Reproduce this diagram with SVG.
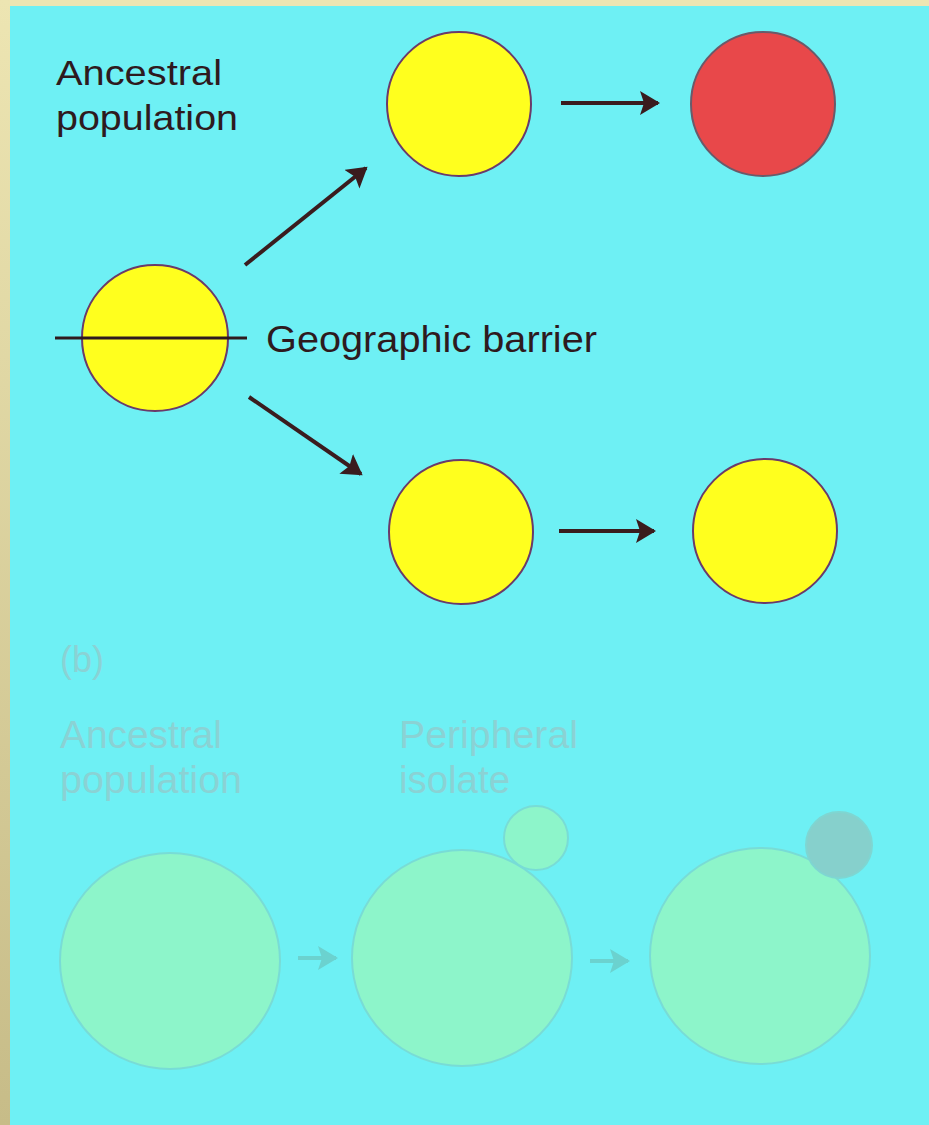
<svg xmlns="http://www.w3.org/2000/svg" width="929" height="1125" viewBox="0 0 929 1125">
<defs>
<linearGradient id="strip" x1="0" y1="0" x2="0" y2="1">
<stop offset="0" stop-color="#ede5b2"/>
<stop offset="1" stop-color="#c7bc88"/>
</linearGradient>
<marker id="ah" markerWidth="6" markerHeight="6" refX="4.5" refY="3" orient="auto" markerUnits="strokeWidth">
<path d="M0,0 L5,3 L0,6 L1,3 Z" fill="#3a1c1e"/>
</marker>
<marker id="ahf" markerWidth="6" markerHeight="6" refX="4.5" refY="3" orient="auto" markerUnits="strokeWidth">
<path d="M0,0 L5,3 L0,6 L1,3 Z" fill="#6bd2cf"/>
</marker>
</defs>
<style>
.t{font-family:"Liberation Sans",Arial,sans-serif;fill:#2e1a1e}
.f{font-family:"Liberation Sans",Arial,sans-serif;fill:#8ad2d4}
.y{fill:#ffff1e;stroke:#6a3a6a;stroke-width:2}
.r{fill:#e8484a;stroke:#6a5a6a;stroke-width:2}
.g{fill:#8df5ca;stroke:#78dcd6;stroke-width:2}
.s{fill:#86d0cc;stroke:#7ed6d2;stroke-width:2}
.c{stroke:#3a1c1e;stroke-width:4;fill:none;marker-end:url(#ah)}
.cf{stroke:#6bd2cf;stroke-width:4;fill:none;marker-end:url(#ahf)}
</style>
<rect x="0" y="0" width="929" height="1125" fill="#6ef0f4"/>
<rect x="0" y="0" width="929" height="6" fill="#ede5b2"/>
<rect x="0" y="0" width="10" height="1125" fill="url(#strip)"/>

<g id="label-ancestral-a">
<text class="t" font-size="35" x="56" y="85" textLength="166" lengthAdjust="spacingAndGlyphs">Ancestral</text>
<text class="t" font-size="35" x="56" y="130" textLength="182" lengthAdjust="spacingAndGlyphs">population</text>
</g>
<g id="node-ancestral"><circle class="y" cx="155" cy="338" r="73"/></g>
<g id="barrier">
<line x1="55" y1="338" x2="247" y2="338" stroke="#2e1a1e" stroke-width="3"/>
<text class="t" font-size="36" x="266" y="352" textLength="331" lengthAdjust="spacingAndGlyphs">Geographic barrier</text>
</g>
<g id="node-top-mid"><circle class="y" cx="459" cy="104" r="72"/></g>
<g id="node-top-right"><circle class="r" cx="763" cy="104" r="72"/></g>
<g id="node-bot-mid"><circle class="y" cx="461" cy="532" r="72"/></g>
<g id="node-bot-right"><circle class="y" cx="765" cy="531" r="72"/></g>

<g id="connectors">
<line class="c" x1="245" y1="265" x2="366" y2="168"/>
<line class="c" x1="249" y1="397" x2="361" y2="474"/>
<line class="c" x1="561" y1="103" x2="658" y2="103"/>
<line class="c" x1="559" y1="531" x2="654" y2="531"/>
<line class="cf" x1="298" y1="958" x2="336" y2="958"/>
<line class="cf" x1="590" y1="961" x2="628" y2="961"/>
</g>

<g id="part-b-labels">
<text class="f" font-size="36" x="60" y="672" textLength="44" lengthAdjust="spacingAndGlyphs">(b)</text>
<text class="f" font-size="38" x="60" y="748" textLength="162" lengthAdjust="spacingAndGlyphs">Ancestral</text>
<text class="f" font-size="38" x="60" y="793" textLength="182" lengthAdjust="spacingAndGlyphs">population</text>
<text class="f" font-size="38" x="399" y="748" textLength="179" lengthAdjust="spacingAndGlyphs">Peripheral</text>
<text class="f" font-size="38" x="399" y="793" textLength="111" lengthAdjust="spacingAndGlyphs">isolate</text>
</g>
<g id="node-b1"><ellipse class="g" cx="170" cy="961" rx="110" ry="108"/></g>
<g id="node-b2">
<ellipse class="g" cx="462" cy="958" rx="110" ry="108"/>
<circle class="g" cx="536" cy="838" r="32"/>
</g>
<g id="node-b3">
<ellipse class="g" cx="760" cy="956" rx="110" ry="108"/>
<circle class="s" cx="839" cy="845" r="33"/>
</g>
</svg>
